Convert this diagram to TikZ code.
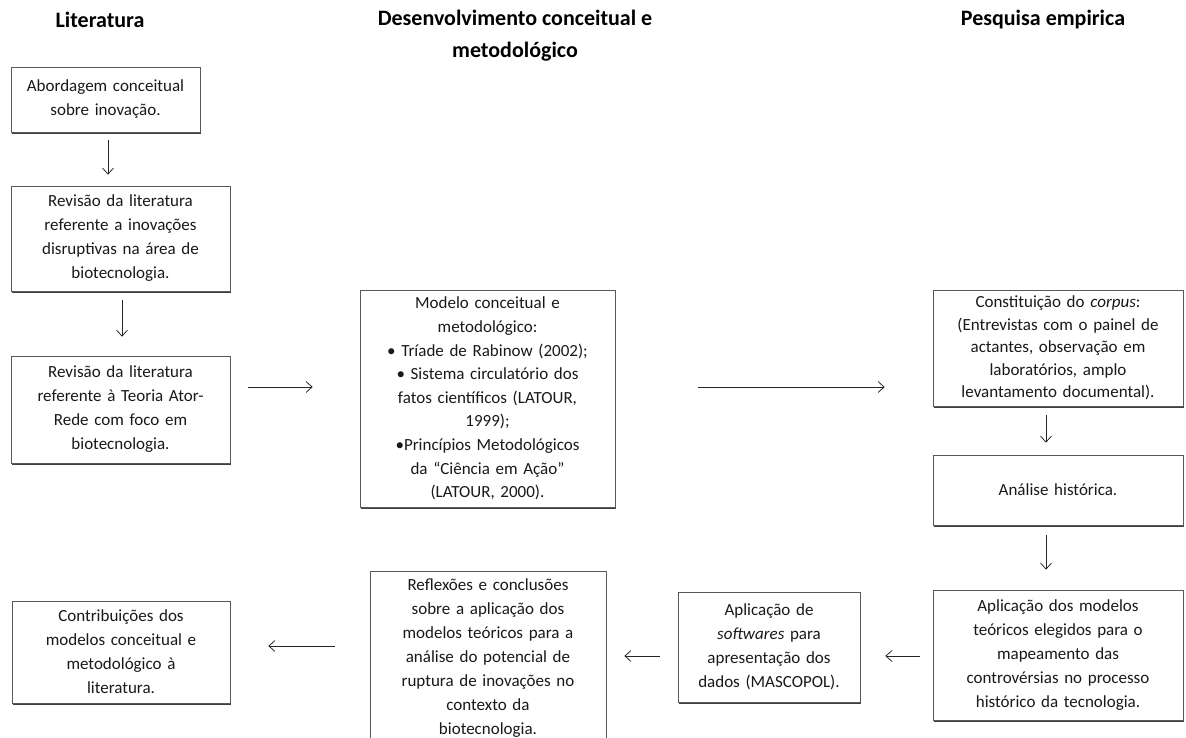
\documentclass[tikz,border=0pt]{standalone}
\usepackage{fontspec}
\setmainfont{Carlito}
\usetikzlibrary{arrows.meta,shadows}

\begin{document}
\begin{tikzpicture}[x=1pt,y=-1pt,
  box/.style={draw=black!65, line width=0.7pt, fill=white, align=center,
    inner xsep=4pt, inner ysep=1pt, text=black!90,
    font=\fontsize{17}{24}\selectfont,
    drop shadow={shadow xshift=0.8pt, shadow yshift=-1.8pt, fill=black!75, opacity=1}},
  head/.style={font=\fontsize{22}{32}\selectfont\bfseries, align=center, text=black},
  arr/.style={-{Straight Barb[length=6pt,width=11pt]}, line width=0.8pt, draw=black!85}
]
\useasboundingbox (0,0) rectangle (1186,738);

% column headings
\node[head] (h1) at (100,20) {Literatura};
\node[head] (h2) at (515,36) {Desenvolvimento conceitual e\\metodológico};
\node[head] (h3) at (1043,20) {Pesquisa empirica};

% literature column
\node[box, minimum width=189pt, minimum height=65pt, text width=181pt] (A) at (105.5,99.5)
  {Abordagem conceitual\\sobre inovação.};
\node[box, minimum width=219pt, minimum height=105pt, text width=211pt] (B) at (120.5,238.5)
  {Revisão da literatura\\referente a inovações\\disruptivas na área de\\biotecnologia.};
\node[box, minimum width=219pt, minimum height=107pt, text width=211pt] (C) at (120.5,409.5)
  {Revisão da literatura\\referente à Teoria Ator-\\Rede com foco em\\biotecnologia.};
\node[box, minimum width=218pt, minimum height=102pt, text width=210pt] (T) at (121,652)
  {Contribuições dos\\modelos conceitual e\\metodológico à\\literatura.};

% conceptual and methodological column
\node[box, minimum width=255pt, minimum height=217pt, text width=247pt,
      font=\fontsize{17}{23.6}\selectfont] (M) at (487.5,398.5)
  {Modelo conceitual e\\metodológico:\\• Tríade de Rabinow (2002);\\• Sistema circulatório dos\\fatos científicos (LATOUR,\\1999);\\•Princípios Metodológicos\\da “Ciência em Ação”\\(LATOUR, 2000).};
\node[box, minimum width=236pt, minimum height=174pt, text width=228pt] (R) at (488,658)
  {Reflexões e conclusões\\sobre a aplicação dos\\modelos teóricos para a\\análise do potencial de\\ruptura de inovações no\\contexto da\\biotecnologia.};
\node[box, minimum width=182pt, minimum height=110pt, text width=174pt] (S) at (769,647)
  {Aplicação de\\\textit{softwares} para\\apresentação dos\\dados (MASCOPOL).};

% empirical research column
\node[box, minimum width=250pt, minimum height=116pt, text width=242pt,
      font=\fontsize{17}{22.5}\selectfont] (K) at (1058,348)
  {Constituição do \textit{corpus}:\\(Entrevistas com o painel de\\actantes, observação em\\laboratórios, amplo\\levantamento documental).};
\node[box, minimum width=250pt, minimum height=70pt, text width=242pt] (H) at (1058,490)
  {Análise histórica.};
\node[box, minimum width=250pt, minimum height=130pt, text width=242pt] (P) at (1058,655)
  {Aplicação dos modelos\\teóricos elegidos para o\\mapeamento das\\controvérsias no processo\\histórico da tecnologia.};

% connectors
\draw[arr] ([shift={(2.5,8)}]A.south) -- ([shift={(-12.5,-11)}]B.north);
\draw[arr] ([shift={(1.5,9)}]B.south) -- ([shift={(1.5,-19)}]C.north);
\draw[arr] ([shift={(18,-22.5)}]C.east) -- ([shift={(-47,-11.5)}]M.west);
\draw[arr] ([shift={(83,-11.5)}]M.east) -- ([shift={(-48,39)}]K.west);
\draw[arr] ([shift={(-12,9)}]K.south) -- ([shift={(-12,-12)}]H.north);
\draw[arr] ([shift={(-12,10)}]H.south) -- ([shift={(-12,-20)}]P.north);
\draw[arr] ([shift={(-13,1)}]P.west) -- ([shift={(25,9)}]S.east);
\draw[arr] ([shift={(-18,9)}]S.west) -- ([shift={(18,-2)}]R.east);
\draw[arr] ([shift={(-35,-12)}]R.west) -- ([shift={(38,-6)}]T.east);
\end{tikzpicture}
\end{document}
